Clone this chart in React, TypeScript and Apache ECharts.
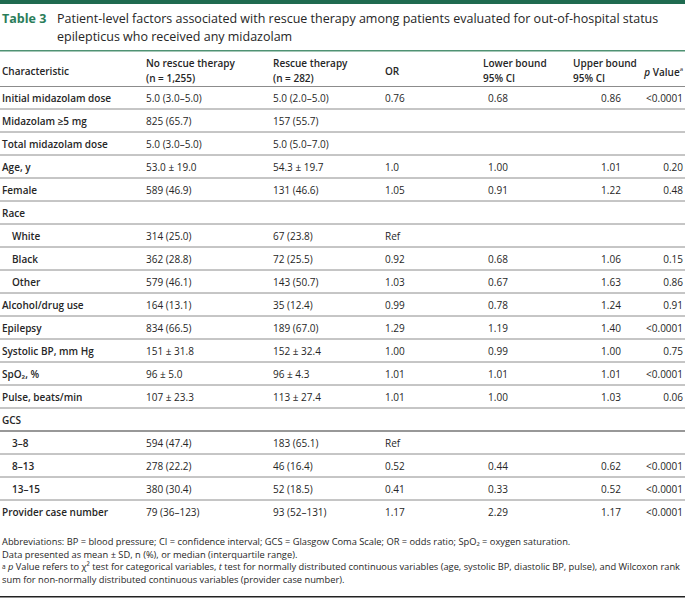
import React, { useEffect, useRef } from "react";
import * as echarts from "echarts";

const rowLabels = [
  "Initial midazolam dose", "Midazolam ≥5 mg", "Total midazolam dose", "Age, y", "Female",
  "Race", "White", "Black", "Other", "Alcohol/drug use", "Epilepsy", "Systolic BP, mm Hg",
  "SpO₂, %", "Pulse, beats/min", "GCS", "3–8", "8–13", "13–15", "Provider case number",
];
const subRows = ["White", "Black", "Other", "3–8", "8–13", "13–15"];
const noRescue = [
  "5.0 (3.0–5.0)", "825 (65.7)", "5.0 (3.0–5.0)", "53.0 ± 19.0", "589 (46.9)", "",
  "314 (25.0)", "362 (28.8)", "579 (46.1)", "164 (13.1)", "834 (66.5)", "151 ± 31.8",
  "96 ± 5.0", "107 ± 23.3", "", "594 (47.4)", "278 (22.2)", "380 (30.4)", "79 (36–123)",
];
const rescue = [
  "5.0 (2.0–5.0)", "157 (55.7)", "5.0 (5.0–7.0)", "54.3 ± 19.7", "131 (46.6)", "",
  "67 (23.8)", "72 (25.5)", "143 (50.7)", "35 (12.4)", "189 (67.0)", "152 ± 32.4",
  "96 ± 4.3", "113 ± 27.4", "", "183 (65.1)", "46 (16.4)", "52 (18.5)", "93 (52–131)",
];
const oddsRatio = ["0.76", "", "", "1.0", "1.05", "", "Ref", "0.92", "1.03", "0.99", "1.29", "1.00", "1.01", "1.01", "", "Ref", "0.52", "0.41", "1.17"];
const lowerCI = ["0.68", "", "", "1.00", "0.91", "", "", "0.68", "0.67", "0.78", "1.19", "0.99", "1.01", "1.00", "", "", "0.44", "0.33", "2.29"];
const upperCI = ["0.86", "", "", "1.01", "1.22", "", "", "1.06", "1.63", "1.24", "1.40", "1.00", "1.01", "1.03", "", "", "0.62", "0.52", "1.17"];
const pValues = ["<0.0001", "", "", "0.20", "0.48", "", "", "0.15", "0.86", "0.91", "<0.0001", "0.75", "<0.0001", "0.06", "", "", "<0.0001", "<0.0001", "<0.0001"];

const headerLines = [
  ["Characteristic"],
  ["No rescue therapy", "(n = 1,255)"],
  ["Rescue therapy", "(n = 282)"],
  ["OR"],
  ["Lower bound", "95% CI"],
  ["Upper bound", "95% CI"],
];
const titleLabel = "Table 3";
const titleLines = [
  "Patient-level factors associated with rescue therapy among patients evaluated for out-of-hospital status",
  "epilepticus who received any midazolam",
];
const footnotes = [
  "Abbreviations: BP = blood pressure; CI = confidence interval; GCS = Glasgow Coma Scale; OR = odds ratio; SpO₂ = oxygen saturation.",
  "Data presented as mean ± SD, n (%), or median (interquartile range).",
  "{s|a} {i|p} Value refers to χ² test for categorical variables, {i|t} test for normally distributed continuous variables (age, systolic BP, diastolic BP, pulse), and Wilcoxon rank",
  "sum for non-normally distributed continuous variables (provider case number).",
];

const FONT = '"Open Sans", "Noto Sans", sans-serif';
const TXT = "#262626";

export default function App() {
  const ref = useRef<HTMLDivElement>(null);
  useEffect(() => {
    document.body.style.margin = "0";
    const chart = echarts.init(ref.current!, null, { renderer: "svg" });
    const colX = [2, 146, 273, 385, 498, 611, 683];
    const headX = [2, 146, 273, 385, 483, 573];

    const renderItem = (params: any, api: any) => {
      const i = params.dataIndex;
      const y = api.coord([0, i])[1];
      const h = api.size([0, 1])[1];
      const indent = subRows.includes(rowLabels[i]) ? 10 : 0;
      const t = (text: string, x: number, align: string, bold = false) => ({
        type: "text",
        style: {
          text,
          x,
          y,
          align,
          verticalAlign: "middle",
          fill: TXT,
          fontSize: 10,
          fontFamily: FONT,
          fontWeight: bold ? 600 : 400,
        },
      });
      const children: any[] = [
        t(rowLabels[i], colX[0] + indent, "left", true),
        t(noRescue[i], colX[1], "left"),
        t(rescue[i], colX[2], "left"),
        t(oddsRatio[i], colX[3], "left"),
        t(lowerCI[i], colX[4], "center"),
        t(upperCI[i], colX[5], "center"),
        t(pValues[i], colX[6], "right"),
      ];
      if (i < rowLabels.length - 1) {
        const dark = rowLabels[i] === "GCS";
        children.push({
          type: "line",
          shape: { x1: 0, y1: y + h / 2, x2: 685, y2: y + h / 2 },
          style: { stroke: dark ? "#333" : "#8c8c8c", lineWidth: dark ? 1.2 : 1 },
        });
      }
      return { type: "group", children };
    };

    const headerTexts: any[] = [];
    headerLines.forEach((lines, c) => {
      const x = headX[c];
      if (lines.length === 1) {
        headerTexts.push({
          type: "text", left: x, top: 66,
          style: { text: lines[0], fill: TXT, font: `600 10px ${FONT}` },
        });
      } else {
        lines.forEach((ln, k) => {
          headerTexts.push({
            type: "text", left: x, top: 58 + k * 15,
            style: { text: ln, fill: TXT, font: `600 10px ${FONT}` },
          });
        });
      }
    });
    headerTexts.push({
      type: "text", right: 2, top: 66,
      style: {
        text: "{i|p} Value{s|a}",
        fill: TXT,
        font: `600 10px ${FONT}`,
        rich: {
          i: { fontStyle: "italic", fontWeight: 600, fontSize: 10, fontFamily: FONT, fill: TXT },
          s: { fontSize: 6, fontFamily: FONT, fill: TXT, verticalAlign: "top", padding: [0, 0, 5, 0] },
        },
      },
    });

    const footSize = 9.3;
    const footFont = `400 ${footSize}px ${FONT}`;
    const footRich = {
      i: { fontStyle: "italic", fontSize: footSize, fontFamily: FONT, fill: TXT },
      s: { fontSize: 6.5, fontFamily: FONT, fill: TXT },
    };

    chart.setOption({
      animation: false,
      grid: { left: 0, right: 0, top: 86, height: 437 },
      xAxis: { type: "value", min: 0, max: 1, show: false },
      yAxis: { type: "category", inverse: true, data: rowLabels, show: false },
      series: [
        {
          type: "custom",
          clip: false,
          renderItem,
          data: rowLabels.map((_, i) => [0, i]),
        },
      ],
      graphic: [
        { type: "rect", shape: { x: 0, y: 0, width: 685, height: 4 }, style: { fill: "#1f6b50" } },
        {
          type: "text", left: 2, top: 12,
          style: { text: titleLabel, fill: "#2a7d5a", font: `700 12.5px ${FONT}` },
        },
        ...titleLines.map((ln, k) => ({
          type: "text", left: 57, top: 12 + k * 18,
          style: { text: ln, fill: TXT, font: `400 12.5px ${FONT}` },
        })),
        { type: "rect", shape: { x: 0, y: 50, width: 685, height: 1.5 }, style: { fill: "#4f9273" } },
        ...headerTexts,
        { type: "rect", shape: { x: 0, y: 86, width: 685, height: 1 }, style: { fill: "#8c8c8c" } },
        ...footnotes.map((ln, k) => ({
          type: "text", left: 2, top: 537 + k * 12.5,
          style: { text: ln, fill: TXT, font: footFont, rich: footRich },
        })),
        { type: "rect", shape: { x: 0, y: 596, width: 685, height: 1.5 }, style: { fill: "#222" } },
      ],
    });
    return () => chart.dispose();
  }, []);
  return <div ref={ref} style={{ width: 685, height: 604, background: "#fff" }} />;
}
